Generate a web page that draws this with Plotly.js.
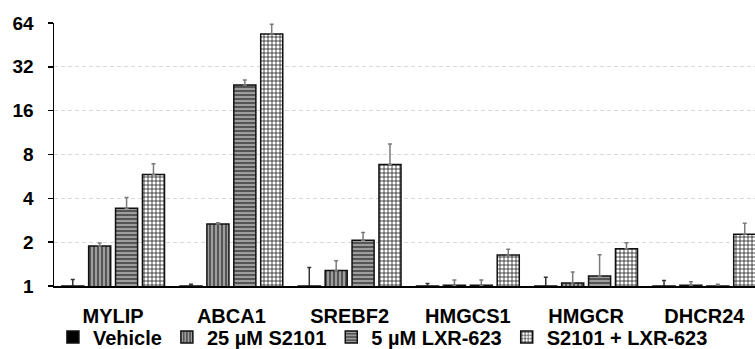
<!DOCTYPE html>
<html>
<head>
<meta charset="utf-8">
<script src="https://cdn.plot.ly/plotly-3.0.1.min.js"></script>
<style>html,body{margin:0;padding:0;background:#fff;}#chart{width:755px;height:349px;}</style>
</head>
<body>
<div id="chart"></div>
<script>
var genes = ["MYLIP", "ABCA1", "SREBF2", "HMGCS1", "HMGCR", "DHCR24"];
var seriesNames = ["Vehicle", "25 µM S2101", "5 µM LXR-623", "S2101 + LXR-623"];

var vehicle    = [1.00, 1.00, 1.00, 1.00, 1.00, 1.00];
var vehicleErr = [0.11, 0.03, 0.34, 0.04, 0.15, 0.09];

var s2101      = [1.88, 2.67, 1.28, 1.01, 1.05, 1.01];
var s2101Err   = [0.09, 0.05, 0.21, 0.09, 0.20, 0.06];

var lxr        = [3.42, 24.0, 2.06, 1.01, 1.17, 1.00];
var lxrErr     = [0.63, 2.0, 0.27, 0.09, 0.47, 0.03];

var combo      = [5.83, 53.8, 6.83, 1.63, 1.80, 2.27];
var comboErr   = [1.07, 9.0, 2.60, 0.16, 0.18, 0.43];

var yTickVals  = [1, 2, 4, 8, 16, 32, 64];
var yTickText  = ["1", "2", "4", "8", "16", "32", "64"];

function zeros(n){ var a=[]; for(var i=0;i<n;i++) a.push(0); return a; }

function errBar(arr, col){
  return {type:'data', symmetric:false, array:arr, arrayminus:zeros(arr.length),
          color:col || '#7a7a7a', thickness:1.5, width:2};
}

var line = {color:'#111', width:1.5};

var traces = [
  {type:'bar', name:seriesNames[0], x:genes, y:vehicle, error_y:errBar(vehicleErr, '#333'),
   marker:{color:'#000', line:line}},
  {type:'bar', name:seriesNames[1], x:genes, y:s2101, error_y:errBar(s2101Err),
   marker:{color:'#5c5c5c', line:line,
     pattern:{shape:'|', bgcolor:'#555555', fgcolor:'#cfcfcf', size:4, solidity:0.3}}},
  {type:'bar', name:seriesNames[2], x:genes, y:lxr, error_y:errBar(lxrErr),
   marker:{color:'#5c5c5c', line:line,
     pattern:{shape:'-', bgcolor:'#555555', fgcolor:'#cfcfcf', size:4, solidity:0.3}}},
  {type:'bar', name:seriesNames[3], x:genes, y:combo, error_y:errBar(comboErr),
   marker:{color:'#ffffff', line:line,
     pattern:{shape:'+', bgcolor:'#ffffff', fgcolor:'#1a1a1a', size:4, solidity:0.35}}}
];

var fam = '"Liberation Sans", Arial, sans-serif';
var font = {family:fam, color:'#000', size:20, weight:'bold'};

var layout = {
  width:755, height:349,
  margin:{l:54, r:0, t:23, b:63, pad:0, autoexpand:false},
  paper_bgcolor:'#fff', plot_bgcolor:'#fff',
  barmode:'group', bargap:0.09, bargroupgap:0.18,
  font:font,
  showlegend:true,
  legend:{orientation:'h', x:-0.0015, xanchor:'left', y:-0.1939, yanchor:'middle',
          font:{family:fam, size:20, color:'#000', weight:'bold'},
          bgcolor:'rgba(0,0,0,0)', traceorder:'normal'},
  xaxis:{type:'category', range:[-0.5, 5.428], showline:true, linecolor:'#000', linewidth:1.5,
         ticks:'', showgrid:false, zeroline:false, ticklabelstandoff:11, automargin:false,
         tickfont:{family:fam, size:20, color:'#000', weight:'bold'}},
  yaxis:{type:'log', range:[0, Math.log10(64)], tickvals:yTickVals, ticktext:yTickText,
         showline:true, linecolor:'#000', linewidth:1.5, ticks:'outside', ticklen:5,
         tickcolor:'#000', tickwidth:1.5, showgrid:true, gridcolor:'#d9d9d9', gridwidth:1,
         griddash:'4px,3px', zeroline:false, ticklabelstandoff:10, automargin:false,
         tickfont:{family:fam, size:19, color:'#000', weight:'bold'}}
};

Plotly.newPlot('chart', traces, layout, {displayModeBar:false, staticPlot:true});
</script>
</body>
</html>
